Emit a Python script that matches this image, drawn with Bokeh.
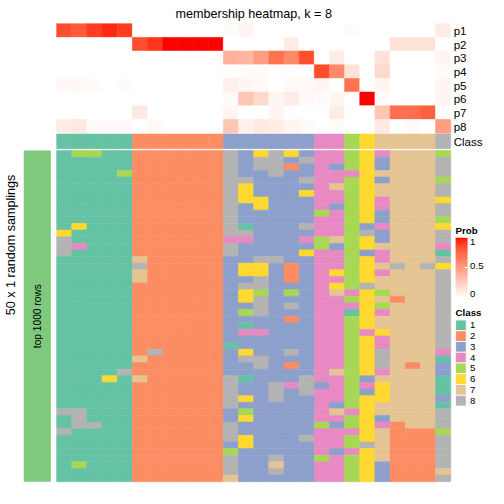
import numpy as np
from bokeh.plotting import figure
from bokeh.models import Range1d, LinearColorMapper, ColorBar, FixedTicker, ColumnDataSource
from bokeh.core.properties import value
from bokeh.embed import file_html
from bokeh.resources import INLINE

# ---------------- data ----------------
TITLE = "membership heatmap, k = 8"
ROW_TITLE = "50 x 1 random samplings"
ROW_SUBTITLE = "top 1000 rows"
CLASS_LABELS = ["1", "2", "3", "4", "5", "6", "7", "8"]
CLASS_COLORS = ["#66C2A5", "#FC8D62", "#8DA0CB", "#E78AC3",
                "#A6D854", "#FFD92F", "#E5C494", "#B3B3B3"]
SAMPLE_CLASS = "11111222222333333445677778"
PROB_NAMES = ["p1", "p2", "p3", "p4", "p5", "p6", "p7", "p8"]
P1 = [0.85, 0.80, 0.90, 0.95, 0.90, 0, 0, 0, 0, 0, 0, 0.02, 0.05, 0, 0, 0, 0, 0, 0, 0.02, 0, 0, 0, 0, 0, 0.10]
P2 = [0, 0, 0, 0, 0, 0.85, 0.92, 1, 1, 1, 1, 0, 0, 0, 0, 0.10, 0, 0, 0, 0, 0, 0, 0.15, 0.15, 0.15, 0]
P3 = [0, 0, 0, 0, 0, 0, 0, 0, 0, 0, 0, 0.40, 0.38, 0.50, 0.70, 0.60, 0.85, 0, 0.10, 0, 0, 0.15, 0, 0, 0, 0.05]
P4 = [0, 0, 0, 0, 0, 0, 0, 0, 0, 0, 0, 0, 0.02, 0.02, 0, 0, 0, 0.85, 0.60, 0.15, 0, 0.20, 0, 0, 0, 0.02]
P5 = [0.04, 0.04, 0.02, 0, 0.02, 0, 0, 0, 0, 0, 0, 0.08, 0.05, 0.03, 0, 0.03, 0.03, 0.05, 0, 0.70, 0, 0.05, 0, 0, 0, 0.05]
P6 = [0, 0, 0, 0, 0, 0, 0, 0, 0, 0, 0, 0.02, 0.30, 0.20, 0.05, 0.10, 0.03, 0.02, 0.05, 0, 1.0, 0.02, 0, 0, 0, 0.05]
P7 = [0, 0, 0, 0, 0, 0.12, 0, 0, 0, 0, 0, 0.05, 0, 0, 0.05, 0, 0, 0, 0.10, 0, 0, 0.30, 0.72, 0.72, 0.78, 0]
P8 = [0.10, 0.12, 0.03, 0.03, 0.03, 0, 0.03, 0, 0, 0, 0, 0.30, 0.08, 0.12, 0.10, 0.05, 0.03, 0, 0.02, 0, 0, 0.12, 0, 0.02, 0, 0.50]
SAMPLINGS = [
    "15511222222836863445647775",
    "11111222222838838445637778",
    "11111222222838823435637778",
    "11115222222833833444677778",
    "11111222222883338445637775",
    "11111222222863333475677778",
    "11111222222863336445677778",
    "11111222222866333445647776",
    "11111222222836333435647778",
    "11111222222833333545637778",
    "11111222222833333445637775",
    "16111222222813338445347776",
    "61111222222883333445837778",
    "81111222222443334575637778",
    "84111222222833333535677774",
    "81111222222833336445347771",
    "11111722222338833445647778",
    "11111822222366323445678786",
    "11111722222366323465647778",
    "11111722222338323445677778",
    "11111222222388333465877778",
    "11111222222365353474657778",
    "11111222222368333445672778",
    "11111222222338383444657778",
    "11111222222358333441647778",
    "11111222222333323445677778",
    "11111222222313333445677778",
    "11111222222344333445467778",
    "11111222222333333445647778",
    "11111222222133333445647778",
    "11111282222363383445687774",
    "11111722222388333445687771",
    "11111222222338323445687273",
    "11118222222333333475647773",
    "11161722222813338445377771",
    "11111222222833848345467771",
    "11111222222833838445367771",
    "11111222222863833445667773",
    "11111222222833333435677771",
    "88111222222353333474677778",
    "18111222222363333445637778",
    "18811222222833333535642778",
    "81111222222833333444672225",
    "11111222222863338445672228",
    "11111222222363333445872228",
    "11111222222533333434672228",
    "11111222222833833545672228",
    "15111222222833733445632228",
    "11111222222833833445632227",
    "11111222222733333445632228",
]
PROB_TICKS = [0, 0.5, 1]
PROB_TICK_LABELS = ["0", "0.5", "1"]

# ---------------- colour ramp (white -> red in LAB, as colorRamp2) ----------------
_M = np.array([[0.4124564, 0.3575761, 0.1804375],
               [0.2126729, 0.7151522, 0.0721750],
               [0.0193339, 0.1191920, 0.9503041]])
_MI = np.linalg.inv(_M)
_WP = np.array([0.95047, 1.0, 1.08883])


def _lin(c):
    c = np.asarray(c, float) / 255.0
    return np.where(c <= 0.04045, c / 12.92, ((c + 0.055) / 1.055) ** 2.4)


def _gam(c):
    c = np.clip(c, 0, 1)
    return np.where(c <= 0.0031308, 12.92 * c, 1.055 * c ** (1 / 2.4) - 0.055)


def rgb2lab(rgb):
    xyz = _M @ _lin(rgb) / _WP
    f = np.where(xyz > 0.008856, np.cbrt(xyz), 7.787 * xyz + 16 / 116)
    return np.array([116 * f[1] - 16, 500 * (f[0] - f[1]), 200 * (f[1] - f[2])])


def lab2hex(lab):
    fy = (lab[0] + 16) / 116
    f = np.array([fy + lab[1] / 500, fy, fy - lab[2] / 200])
    xyz = np.where(f ** 3 > 0.008856, f ** 3, (f - 16 / 116) / 7.787) * _WP
    rgb = _gam(_MI @ xyz)
    return "#%02x%02x%02x" % tuple(int(round(v * 255)) for v in rgb)


_w, _r = rgb2lab([255, 255, 255]), rgb2lab([255, 0, 0])
PALETTE = [lab2hex(_w + t * (_r - _w)) for t in np.linspace(0, 1, 256)]
mapper = LinearColorMapper(palette=PALETTE, low=0, high=1)

# ---------------- layout (reference pixel frame, 504 x 504) ----------------
W = H = 488
RX0, RX1 = 0.0, 504.0
RY0, RY1 = 0.0, 504.0
SX = W / (RX1 - RX0)
SY = H / (RY1 - RY0)
HM_X0, HM_X1 = 58.0, 465.0
TOP_Y0, TOP_Y1 = 24.0, 137.0
CLS_Y0, CLS_Y1 = 138.0, 153.0
MAIN_Y0, MAIN_Y1 = 155.0, 497.0
FONT = "Liberation Sans"

ncol = len(SAMPLE_CLASS)
nrow = len(SAMPLINGS)
nprob = len(PROB_NAMES)


def ext_range(a0, a1, v0, v1, r_lo, r_hi):
    k = (v1 - v0) / (a1 - a0)
    return v0 + (r_lo - a0) * k, v0 + (r_hi - a0) * k


p = figure(width=W, height=H, x_range=Range1d(RX0, RX1), y_range=Range1d(RY1, RY0),
           output_backend="svg", toolbar_location=None, min_border=0,
           x_axis_location=None, y_axis_location=None)
p.grid.visible = False
p.outline_line_color = None
p.background_fill_color = "white"

cx0, cx1 = ext_range(HM_X0, HM_X1, 0, ncol, RX0, RX1)
p.extra_x_ranges = {"col": Range1d(cx0, cx1)}
m_top, m_bot = ext_range(MAIN_Y0, MAIN_Y1, 0, nrow, RY0, RY1)
t_top, t_bot = ext_range(TOP_Y0, TOP_Y1, 0, nprob, RY0, RY1)
c_top, c_bot = ext_range(CLS_Y0, CLS_Y1, 0, 1, RY0, RY1)
p.extra_y_ranges = {"main": Range1d(m_bot, m_top),
                    "top": Range1d(t_bot, t_top),
                    "cls": Range1d(c_bot, c_top)}

# main class heatmap
ml, mr, mt, mb, mc = [], [], [], [], []
for r, row in enumerate(SAMPLINGS):
    for c, ch in enumerate(row):
        ml.append(c); mr.append(c + 1); mt.append(r); mb.append(r + 1)
        mc.append(CLASS_COLORS[int(ch) - 1])
p.quad(left=ml, right=mr, top=mt, bottom=mb, fill_color=mc, line_color=mc, line_width=0.6,
       x_range_name="col", y_range_name="main")

# membership probability heatmap
probs = [P1, P2, P3, P4, P5, P6, P7, P8]
tl, tr, tt, tb, tv = [], [], [], [], []
for k, vals in enumerate(probs):
    for c, v in enumerate(vals):
        tl.append(c); tr.append(c + 1); tt.append(k); tb.append(k + 1); tv.append(v)
src = ColumnDataSource(dict(left=tl, right=tr, top=tt, bottom=tb, v=tv))
p.quad(left="left", right="right", top="top", bottom="bottom", source=src,
       fill_color={"field": "v", "transform": mapper},
       line_color={"field": "v", "transform": mapper}, line_width=0.6,
       x_range_name="col", y_range_name="top")

# class annotation row
cc = [CLASS_COLORS[int(ch) - 1] for ch in SAMPLE_CLASS]
p.quad(left=list(range(ncol)), right=list(range(1, ncol + 1)), top=[0] * ncol, bottom=[1] * ncol,
       fill_color=cc, line_color=cc, line_width=0.6, x_range_name="col", y_range_name="cls")

# left annotation bar
p.quad(left=[24], right=[52], top=[0], bottom=[nrow], fill_color="#7FC97F", line_color=None,
       y_range_name="main")

fs = lambda px: "%.1fpx" % (px * SX)

# title
p.text(x=[(HM_X0 + HM_X1) / 2], y=[14.4], text=[TITLE], text_font=value(FONT),
       text_font_size=fs(13), text_align="center", text_baseline="alphabetic", text_color="black")

# row labels of probability heatmap
p.text(x=[468] * nprob, y=[k + 0.5 for k in range(nprob)], text=PROB_NAMES, text_font=value(FONT),
       text_font_size=fs(12), text_align="left", text_baseline="middle", text_color="black",
       y_range_name="top")
p.text(x=[468], y=[0.5], text=["Class"], text_font=value(FONT), text_font_size=fs(12),
       text_align="left", text_baseline="middle", text_color="black", y_range_name="cls")

# rotated row titles
p.text(x=[11], y=[252.5], text=[ROW_TITLE], text_font=value(FONT), text_font_size=fs(13),
       text_align="center", text_baseline="middle", angle=np.pi / 2, text_color="black")
p.text(x=[38.5], y=[nrow / 2], text=[ROW_SUBTITLE], text_font=value(FONT), text_font_size=fs(10.5),
       text_align="center", text_baseline="middle", angle=np.pi / 2, text_color="black",
       y_range_name="main")

# Prob legend
p.text(x=[470], y=[237.5], text=["Prob"], text_font=value(FONT), text_font_size=fs(10),
       text_font_style="bold", text_align="left", text_baseline="middle", text_color="black")
cb = ColorBar(color_mapper=mapper, location=((470 - RX0) * SX, (RY1 - 307) * SY),
              width=int(round(12 * SX)), height=int(round(62 * SY)), padding=0, margin=0,
              ticker=FixedTicker(ticks=PROB_TICKS), major_label_text_alpha=0,
              major_tick_line_color="white", major_tick_in=3, major_tick_out=0,
              bar_line_color=None, border_line_color=None, background_fill_alpha=0)
p.add_layout(cb)
lab_y = [303, 274, 249]
p.text(x=[485] * 3, y=lab_y, text=PROB_TICK_LABELS, text_font=value(FONT), text_font_size=fs(10),
       text_align="left", text_baseline="middle", text_color="black")

# Class legend
p.text(x=[470], y=[322], text=["Class"], text_font=value(FONT), text_font_size=fs(10),
       text_font_style="bold", text_align="left", text_baseline="middle", text_color="black")
SW_H = 11.1
sw_top = [330 + i * SW_H for i in range(len(CLASS_LABELS))]
p.quad(left=[470] * 8, right=[481] * 8, top=sw_top, bottom=[t + SW_H for t in sw_top],
       fill_color=CLASS_COLORS, line_color="white", line_width=0.8)
p.text(x=[485] * 8, y=[t + SW_H / 2 for t in sw_top], text=CLASS_LABELS, text_font=value(FONT),
       text_font_size=fs(10), text_align="left", text_baseline="middle", text_color="black")

open("out.html", "w").write(file_html(p, INLINE))
